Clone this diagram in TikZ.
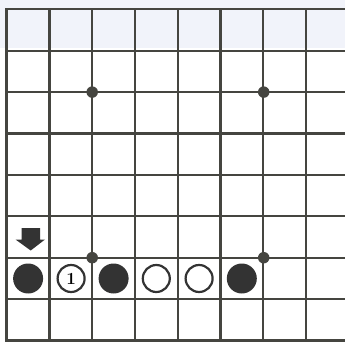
\documentclass[tikz,border=0pt]{standalone}
\usetikzlibrary{positioning}

\definecolor{boardline}{HTML}{454540}
\definecolor{stoneblack}{HTML}{333333}
\definecolor{paperblue}{HTML}{F1F3FA}

\begin{document}
\begin{tikzpicture}[
  x=1pt,y=-1pt,
  gridline/.style={boardline,line width=2.2pt},
  hoshi/.style={circle,fill=boardline,minimum size=11.5pt,inner sep=0pt},
  blackstone/.style={circle,fill=stoneblack,minimum size=30pt,inner sep=0pt},
  whitestone/.style={circle,draw=stoneblack,line width=2.2pt,fill=white,minimum size=27pt,inner sep=0pt,
    font=\fontsize{17}{17}\selectfont\bfseries},
  marker/.style={fill=stoneblack},
]

\useasboundingbox (0,0) rectangle (345,342);
\fill[white] (0,0) rectangle (345,342);
\fill[paperblue] (0,0) rectangle (345,48);

% === Board lines ===
\foreach \i in {0,...,8}
  \draw[gridline] ({6.7+42.76*\i},9.3) -- ({6.7+42.76*\i},345);
\foreach \j in {0,...,7}
  \draw[gridline] (6.7,{9.3+41.4*\j}) -- (348,{9.3+41.4*\j});
\draw[gridline] (6.7,340.5) -- (348,340.5);
\draw[boardline,line width=3pt] (6.7,8.3) -- (6.7,345);

% === Star points ===
\node[hoshi] (h1) at (92.2,92.1) {};
\node[hoshi] (h2) at (263.7,92.1) {};
\node[hoshi] (h3) at (92.2,257.7) {};
\node[hoshi] (h4) at (263.7,257.7) {};

% === Stones ===
\node[blackstone] (s1) at (28.1,278.5) {};
\node[whitestone] (s2) at (71.1,278.5) {1};
\node[blackstone] (s3) at (113.6,278.5) {};
\node[whitestone] (s4) at (156.3,278.5) {};
\node[whitestone] (s5) at (199.1,278.5) {};
\node[blackstone] (s6) at (241.8,278.5) {};

% === Marker ===
\fill[marker] (21.5,228) -- (40,228) -- (40,239.5) -- (45,239.5)
  -- (30.7,250.5) -- (15.5,239.5) -- (21.5,239.5) -- cycle;

\end{tikzpicture}
\end{document}
